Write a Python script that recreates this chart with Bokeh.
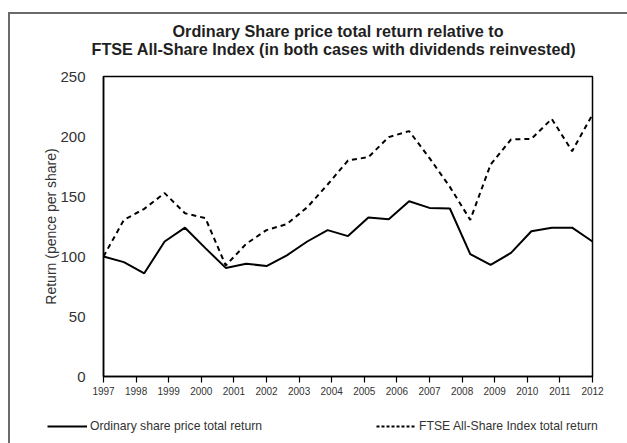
from bokeh.plotting import figure
from bokeh.layouts import column
from bokeh.models import Legend, LegendItem, FixedTicker, Range1d, Title
from bokeh.embed import file_html
from bokeh.resources import INLINE

# ---- data ----
years = list(range(1997, 2013))
year_labels = [str(y) for y in years]
share_return = [100, 95.3, 86, 112.5, 124, 107, 90.5, 94, 92, 101, 112.5, 122, 117,
                132.5, 131, 146, 140.5, 140, 102, 93, 103, 121, 124, 124, 112.5]
ftse_return = [100, 130.5, 139.7, 152.8, 136, 132, 92.5, 110.5, 122, 127, 141, 160, 180,
               182.8, 199.5, 204.5, 182, 158, 130.5, 176.7, 197.5, 198, 214.7, 187.8, 218.3]
y_ticks = [0, 50, 100, 150, 200, 250]
series_names = ["Ordinary share price total return", "FTSE All-Share Index total return"]
title_lines = ["Ordinary Share price total return relative to",
               "FTSE All-Share Index (in both cases with dividends reinvested)"]
y_label = "Return (pence per share)"

# sample points evenly spread over the year span
n = len(share_return)
xs = [years[0] + i * (years[-1] - years[0]) / (n - 1) for i in range(n)]

FONT = "Liberation Sans"

p = figure(width=617, height=397, output_backend="svg", toolbar_location=None,
           x_range=Range1d(years[0], years[-1]), y_range=Range1d(0, 250),
           min_border_left=93, min_border_top=62, min_border_right=35,
           min_border_bottom=35)

p.title = None
# line 2 sits next to the frame, line 1 above it
t2 = Title(text=title_lines[1], align="left", offset=-12, text_font=FONT,
           text_font_size="16.2px", text_font_style="bold", text_color="#1f1f1f",
           standoff=37)
t1 = Title(text=title_lines[0], align="left", offset=69, text_font=FONT,
           text_font_size="16.2px", text_font_style="bold", text_color="#1f1f1f",
           standoff=-40)
p.add_layout(t2, "above")
p.add_layout(t1, "above")

p.grid.visible = False
p.outline_line_color = "black"
p.outline_line_width = 1.5
p.background_fill_color = "white"
p.border_fill_color = "white"

# axes
xa = p.xaxis[0]
xa.ticker = FixedTicker(ticks=years)
xa.major_label_overrides = {y: l for y, l in zip(years, year_labels)}
xa.major_tick_in = 0
xa.major_tick_out = 6
xa.minor_tick_line_color = None
xa.axis_line_width = 1.5
xa.major_tick_line_width = 1.2
xa.major_label_text_font = FONT
xa.major_label_text_font_size = "10px"
xa.major_label_text_color = "#333333"
xa.major_label_standoff = 4

ya = p.yaxis[0]
ya.ticker = FixedTicker(ticks=y_ticks)
ya.major_tick_line_color = None
ya.minor_tick_line_color = None
ya.axis_line_width = 1.5
ya.major_label_text_font = FONT
ya.major_label_text_font_size = "15px"
ya.major_label_text_color = "#333333"
ya.major_label_standoff = 12
ya.axis_label = y_label
ya.axis_label_text_font = FONT
ya.axis_label_text_font_size = "14px"
ya.axis_label_text_font_style = "normal"
ya.axis_label_text_color = "#333333"
ya.axis_label_standoff = -2

p.line(xs, share_return, line_color="black", line_width=2)
p.line(xs, ftse_return, line_color="black", line_width=2, line_dash="5 4")

# legend strip below the chart (its own series are outside its view range;
# only the legend entries show)
lf = figure(width=617, height=32, output_backend="svg", toolbar_location=None,
            x_range=Range1d(0, 1), y_range=Range1d(0, 1),
            x_axis_type=None, y_axis_type=None, min_border=0)
lf.frame_align = False
lf.grid.visible = False
lf.outline_line_color = None
lf.background_fill_color = "white"
lf.border_fill_color = "white"
g1 = lf.line(xs, share_return, line_color="black", line_width=2)
g2 = lf.line(xs, ftse_return, line_color="black", line_width=2, line_dash="3 2")
legend = Legend(items=[LegendItem(label=series_names[0], renderers=[g1]),
                       LegendItem(label=series_names[1], renderers=[g2])],
                orientation="horizontal", location=(37, 10),
                border_line_color=None, background_fill_alpha=0,
                glyph_width=40, glyph_height=14, label_standoff=3, spacing=114,
                label_text_font=FONT, label_text_font_size="12.2px",
                label_text_color="#333333", padding=0, margin=0)
lf.add_layout(legend, "center")

layout = column(p, lf, spacing=0,
                styles={"border-left": "2px solid #6a6a6a", "border-top": "2px solid #6a6a6a",
                        "margin-left": "8px", "margin-top": "12px"})

open("out.html", "w").write(file_html(layout, INLINE))
